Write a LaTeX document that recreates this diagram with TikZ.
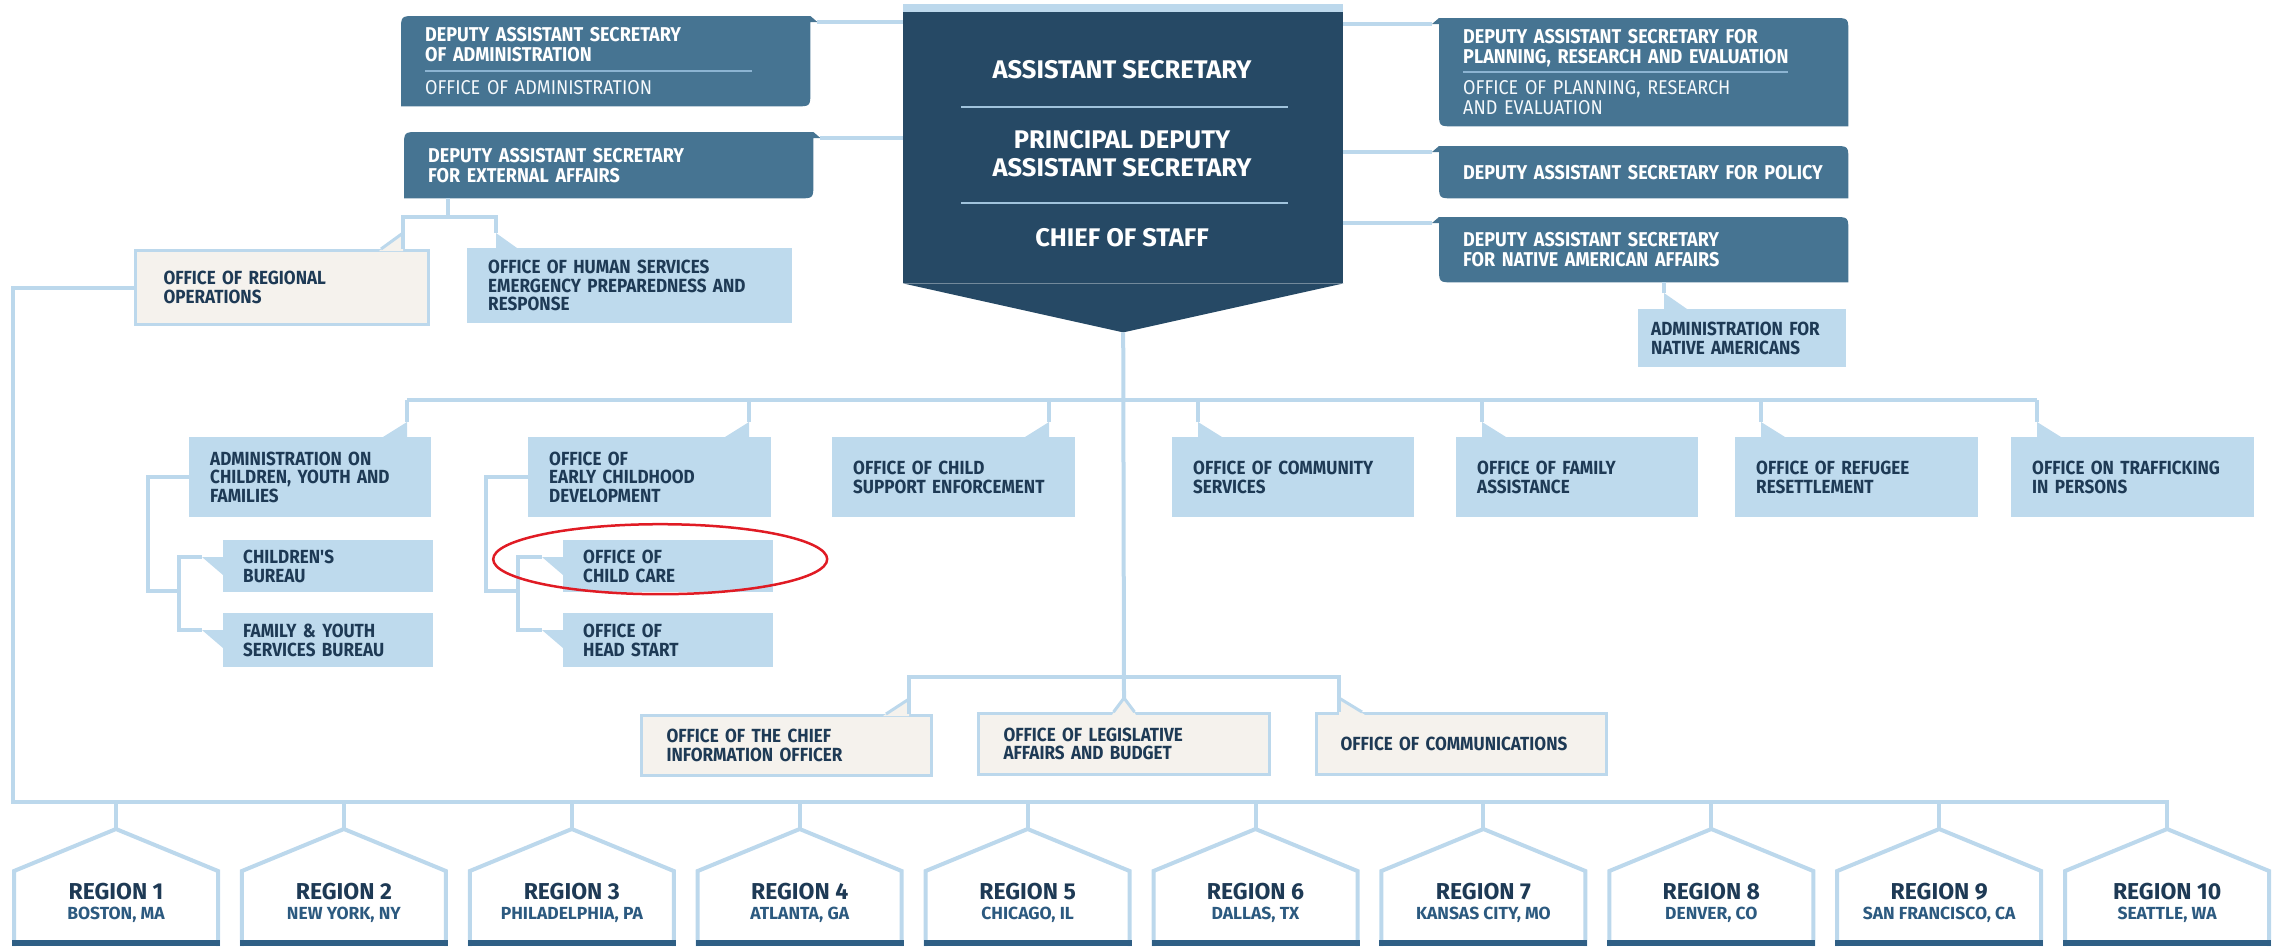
\documentclass[tikz,border=0pt]{standalone}
\usepackage{fontspec}
\setmainfont{Fira Sans}
\newfontfamily\condff{Fira Sans}[FakeStretch=0.9]
\usetikzlibrary{calc,backgrounds}
\definecolor{asnavy}{HTML}{264965}
\definecolor{dasblue}{HTML}{467492}
\definecolor{boxblue}{HTML}{BEDAED}
\definecolor{lineblue}{HTML}{BCD8EC}
\definecolor{tanbg}{HTML}{F5F2ED}
\definecolor{navytxt}{HTML}{1E3A55}
\definecolor{citytxt}{HTML}{2C5A80}
\definecolor{stripblue}{HTML}{2F5F85}
\definecolor{sepblue}{HTML}{8CB4D2}
\definecolor{assep}{HTML}{A0C3DC}
\definecolor{circred}{HTML}{E01B24}
\tikzset{
    conn/.style={draw=lineblue, line width=4pt},
    tabline/.style={draw=lineblue, line width=3pt},
    lbox/.style={anchor=north west, fill=boxblue, text=navytxt, align=left, inner xsep=21pt, inner ysep=0pt, font=\condff\fontsize{19}{18.5}\selectfont\bfseries},
    tbox/.style={lbox, fill=tanbg, draw=lineblue, line width=3pt},
    dasbox/.style={anchor=north west, text=white, align=left, inner xsep=24pt, inner ysep=0pt, minimum width=409pt, text width=361pt, font=\condff\fontsize{20}{20}\selectfont\bfseries},
    astext/.style={text=white, align=center, font=\fontsize{25.5}{28}\selectfont\bfseries},
    regshape/.style={draw=lineblue, line width=4pt, fill=white},
    regtext/.style={text=navytxt, align=center, inner sep=0pt, font=\fontsize{23}{20}\selectfont\bfseries}
}
\begin{document}
\begin{tikzpicture}[x=1pt,y=-1pt]
\useasboundingbox (0,0) rectangle (2285,946);
\coordinate (midbar) at (1122,400);
\coordinate (lowbar) at (1122,677);
\coordinate (rbar) at (13,802);
% assistant secretary
\node[fill=asnavy, anchor=north west, minimum width=440pt, minimum height=271pt, inner sep=0pt] (as) at (903,12) {};
\fill[lineblue] (as.north west) rectangle ++(440,-8);
\coordinate (astip) at ($(as.south)+(0,49)$);
\fill[asnavy] (as.south west) -- (as.south east) -- (astip) -- cycle;
\node[astext] (as1) at (1122,70) {ASSISTANT SECRETARY};
\node[astext] (as2) at (1122,154) {PRINCIPAL DEPUTY\\ASSISTANT SECRETARY};
\node[astext] (as3) at (1122,238) {CHIEF OF STAFF};
\foreach \y in {107,203}
    \draw[assep, line width=1.5pt] ($(as.north west)+(58,\y-12)$) -- ++(327,0);
% deputy assistant secretaries
\node[dasbox, minimum height=90pt] (dasadm) at (401,16) {DEPUTY ASSISTANT SECRETARY\\OF ADMINISTRATION\\[-10pt]{\color{sepblue}\rule{327pt}{1.5pt}}\\[3pt]{\mdseries\color{white!85!boxblue}OFFICE OF ADMINISTRATION}};
\node[dasbox, minimum height=66pt] (dasext) at (404,132) {DEPUTY ASSISTANT SECRETARY\\FOR EXTERNAL AFFAIRS};
\node[dasbox, minimum height=108pt] (daspre) at (1439,18) {DEPUTY ASSISTANT SECRETARY FOR\\PLANNING, RESEARCH AND EVALUATION\\[-11pt]{\color{sepblue}\rule{325pt}{1.5pt}}\\[2pt]{\mdseries\color{white!85!boxblue}OFFICE OF PLANNING, RESEARCH\\AND EVALUATION}};
\node[dasbox, minimum height=52pt] (daspol) at (1439,146) {DEPUTY ASSISTANT SECRETARY FOR POLICY};
\node[dasbox, minimum height=65pt] (dasnaa) at (1439,217) {DEPUTY ASSISTANT SECRETARY\\FOR NATIVE AMERICAN AFFAIRS};
\begin{scope}[on background layer]
\foreach \n in {dasadm,dasext}
    \fill[dasblue] (\n.south west) -- ($(\n.north west)+(0,15)$) .. controls (\n.north west) .. ($(\n.north west)+(15,0)$) -- (\n.north east) -- ++(7,6) -- ++(-7,0) -- ($(\n.south east)+(0,-15)$) .. controls (\n.south east) .. ($(\n.south east)+(-15,0)$) -- cycle;
\foreach \n in {daspre,daspol,dasnaa}
    \fill[dasblue] (\n.south east) -- ($(\n.north east)+(0,15)$) .. controls (\n.north east) .. ($(\n.north east)+(-15,0)$) -- (\n.north west) -- ++(-7,6) -- ++(7,0) -- ($(\n.south west)+(0,-15)$) .. controls (\n.south west) .. ($(\n.south west)+(15,0)$) -- cycle;
\end{scope}
\foreach \n in {dasadm,dasext}{
    \coordinate (\n-tip) at ($(\n.north east)+(7,6)$);
    \draw[conn] (\n-tip) -- (\n-tip -| as.west);
}
\foreach \n in {daspre,daspol,dasnaa}{
    \coordinate (\n-tip) at ($(\n.north west)+(-7,6)$);
    \draw[conn] (\n-tip) -- (\n-tip -| as.east);
}
% external affairs offices
\node[tbox, inner xsep=28pt, text width=237pt, minimum height=74pt] (oro) at (134,249) {OFFICE OF REGIONAL\\OPERATIONS};
\coordinate (oro-tab) at ($(oro.north east)+(-27,-16)$);
\fill[tanbg] (oro-tab) -- ++(0,18) -- ++(-24,0) -- cycle;
\draw[tabline] (oro-tab) -- ++(-22,16);
\node[lbox, text width=283pt, minimum height=75pt] (ohsepr) at (467,248) {OFFICE OF HUMAN SERVICES\\EMERGENCY PREPAREDNESS AND\\RESPONSE};
\coordinate (ohsepr-tab) at ($(ohsepr.north west)+(29,-15)$);
\fill[boxblue] (ohsepr-tab) -- ++(0,15) -- ++(21,0) -- cycle;
\draw[conn] (dasext.south west) ++(44,0) -- ++(0,19) coordinate (extj);
\draw[conn] (oro-tab |- oro.north) -- (oro-tab) |- (extj) -| (ohsepr-tab);
% native americans
\node[lbox, inner xsep=13pt, text width=182pt, minimum height=58pt] (ana) at (1638,309) {ADMINISTRATION FOR\\NATIVE AMERICANS};
\coordinate (ana-tab) at ($(ana.north west)+(26,-16)$);
\fill[boxblue] (ana-tab) -- ++(0,16) -- ++(23,0) -- cycle;
\draw[conn] (ana-tab) -- (ana-tab |- dasnaa.south);
% program offices
\foreach \n/\x/\w/\s/\dx/\txt in {
    acyf/189/242/218/-24/{ADMINISTRATION ON\\CHILDREN, YOUTH AND\\FAMILIES},
    oecd/528/243/221/-24/{OFFICE OF\\EARLY CHILDHOOD\\DEVELOPMENT},
    ocse/832/243/217/-24/{OFFICE OF CHILD\\SUPPORT ENFORCEMENT},
    ocs/1172/242/26/24/{OFFICE OF COMMUNITY\\SERVICES},
    ofa/1456/242/26/24/{OFFICE OF FAMILY\\ASSISTANCE},
    orr/1735/243/26/24/{OFFICE OF REFUGEE\\RESETTLEMENT},
    otip/2011/243/26/24/{OFFICE ON TRAFFICKING\\IN PERSONS}}{
    \pgfmathsetmacro\tw{\w-42}
    \node[lbox, text width=\tw pt, minimum height=80pt] (\n) at (\x,437) {\txt};
    \coordinate (\n-tab) at ($(\n.north west)+(\s,-15)$);
    \fill[boxblue] (\n-tab) -- ++(0,15) -- ++(\dx,0) -- cycle;
    \draw[conn] (\n-tab) -- (\n-tab |- midbar);
}
\draw[conn] (acyf-tab |- midbar) -- (otip-tab |- midbar);
\foreach \n/\x/\y/\h/\txt in {
    cb/223/540/52/{CHILDREN'S\\BUREAU},
    fysb/223/613/54/{FAMILY \& YOUTH\\SERVICES BUREAU},
    occ/563/540/52/{OFFICE OF\\CHILD CARE},
    ohs/563/613/54/{OFFICE OF\\HEAD START}}{
    \node[lbox, inner xsep=20pt, text width=170pt, minimum height=\h pt] (\n) at (\x,\y) {\txt};
    \coordinate (\n-tab) at ($(\n.north west)+(-21,17)$);
    \fill[boxblue] (\n-tab) -- ++(21,0) -- ++(0,18) -- cycle;
}
\draw[conn] (acyf.west) -- ++(-41,0) |- (179,591);
\draw[conn] (cb-tab) -- ++(-23,0) |- (fysb-tab);
\draw[conn] (oecd.west) -- ++(-42,0) |- (518,591);
\draw[conn] (occ-tab) -- ++(-24,0) |- (ohs-tab);
% staff offices
\node[tbox, inner xsep=25pt, text width=240pt, minimum height=60pt] (ocio) at (640,714) {OFFICE OF THE CHIEF\\INFORMATION OFFICER};
\node[tbox, inner xsep=25pt, text width=241pt, minimum height=61pt] (olab) at (977,712) {OFFICE OF LEGISLATIVE\\AFFAIRS AND BUDGET};
\node[tbox, inner xsep=24pt, text width=242pt, minimum height=61pt] (ocomm) at (1315,712) {OFFICE OF COMMUNICATIONS};
\coordinate (ocio-tab) at ($(ocio.north east)+(-24,-15)$);
\coordinate (olab-tab) at ($(olab.north)+(0,-14)$);
\coordinate (ocomm-tab) at ($(ocomm.north west)+(24,-14)$);
\fill[tanbg] (ocio-tab) -- ++(0,17) -- ++(-26,0) -- cycle;
\fill[tanbg] (olab-tab) -- ++(-12,17) -- ++(24,0) -- cycle;
\fill[tanbg] (ocomm-tab) -- ++(0,17) -- ++(26,0) -- cycle;
\draw[tabline] (ocio-tab) -- ++(-23,15);
\draw[tabline] ($(olab-tab)+(-10.5,14)$) -- (olab-tab) -- ++(10.5,14);
\draw[tabline] (ocomm-tab) -- ++(23,14);
\draw[conn] (ocio-tab |- ocio.north) -- (ocio-tab) |- (lowbar) -| (ocomm-tab) -- (ocomm-tab |- ocomm.north);
\draw[conn] (astip) -- (olab-tab);
% regions
\draw[conn] (oro.west) -| (rbar) -- ++(2156,0);
\foreach \i/\city in {1/{BOSTON, MA}, 2/{NEW YORK, NY}, 3/{PHILADELPHIA, PA}, 4/{ATLANTA, GA}, 5/{CHICAGO, IL}, 6/{DALLAS, TX}, 7/{KANSAS CITY, MO}, 8/{DENVER, CO}, 9/{SAN FRANCISCO, CA}, 10/{SEATTLE, WA}}{
    \pgfmathsetmacro\rx{116+227.9*(\i-1)}
    \coordinate (reg\i-top) at (\rx,829);
    \filldraw[regshape] (\rx-102,946) -- (\rx-102,871) -- (reg\i-top) -- (\rx+102,871) -- (\rx+102,946);
    \fill[stripblue] (\rx-104,940) rectangle (\rx+104,946);
    \node[regtext] (reg\i) at (\rx,903) {REGION \i\\{\fontsize{17.5}{20}\selectfont\color{citytxt}\city}};
    \draw[conn] (reg\i-top) -- (reg\i-top |- rbar);
}
\draw[circred, line width=2.5pt] ($(occ.center)+(-8,-7)$) ellipse [x radius=167pt, y radius=35pt];
\end{tikzpicture}
\end{document}
